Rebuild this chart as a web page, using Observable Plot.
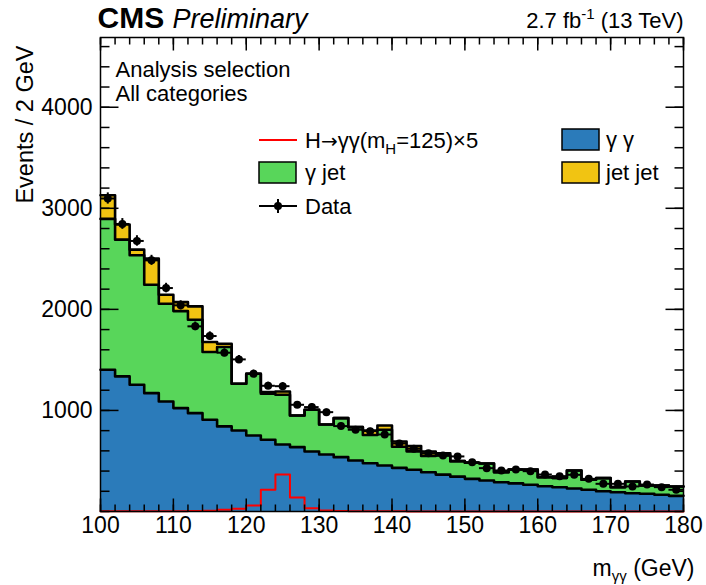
<!DOCTYPE html>
<html>
<head>
<meta charset="utf-8">
<script src="https://cdn.jsdelivr.net/npm/d3@7"></script>
<script src="https://cdn.jsdelivr.net/npm/@observablehq/plot@0.6"></script>
<style>
  html, body { margin: 0; padding: 0; background: #fff; overflow: hidden; }
  svg { display: block; }
</style>
</head>
<body>
<div id="chart"></div>
<script>
// ---- data ----
const binLow = [100,102,104,106,108,110,112,114,116,118,120,122,124,126,128,130,132,134,136,138,
                140,142,144,146,148,150,152,154,156,158,160,162,164,166,168,170,172,174,176,178];
const binWidth = 2;
const xMax = 180;

const gammaGamma = [1403,1337,1254,1171,1089,1023,973,908,842,802,752,710,663,637,594,564,538,505,478,455,
                    432,413,389,365,345,323,307,290,278,265,250,240,228,215,201,191,181,175,165,155];
const gammaJet   = [1492,1353,1281,1073,967,960,925,670,785,462,611,455,492,313,413,297,386,330,279,354,
                    208,182,161,190,153,159,168,99,138,151,90,93,178,99,129,50,116,82,92,93];
const jetJet     = [234,150,56,258,89,89,132,99,33,0,0,16,33,0,0,0,0,0,45,42,
                    53,52,44,22,0,0,0,0,0,0,0,0,0,0,0,0,0,0,0,0];
const dataCounts = [3097,2845,2677,2485,2211,2040,1832,1736,1571,1505,1363,1244,1240,1056,1033,983,845,809,795,762,
                    673,620,577,554,545,488,429,406,416,399,366,350,363,323,274,274,248,267,241,215];
const signalX5   = [2,2,2,2,2,3,5,7,17,27,59,215,366,139,33,10,5,3,2,2,
                    2,1,1,1,1,1,1,1,1,1,1,1,1,1,1,1,1,1,1,1];

const components = ["γ γ", "γ jet", "jet jet"];
const compColors = ["#2b7bba", "#58d65a", "#f1c412"];
const xTicks = [100,110,120,130,140,150,160,170,180];
const yTicks = [1000,2000,3000,4000];

// ---- layout ----
const W = 706, H = 585;
const mL = 100, mR = 23, mT = 37, mB = 74;
const innerW = W - mL - mR, innerH = H - mT - mB;
const X0 = 100, X1 = 180, Y0 = 0, Y1 = 4690;
const FONT = "'Liberation Sans', Arial, Helvetica, sans-serif";
const pxX = (X1 - X0) / innerW, pxY = (Y1 - Y0) / innerH;   // one pixel in data units

// ---- build tables ----
const compValues = [gammaGamma, gammaJet, jetJet];
const stackRows = [];
components.forEach((c, k) => {
  const vals = compValues[k];
  binLow.forEach((x, i) => stackRows.push({comp: c, x, v: vals[i]}));
  stackRows.push({comp: c, x: xMax, v: vals[vals.length - 1]});
});
const sigRows = binLow.map((x, i) => ({x, v: signalX5[i]}));
sigRows.push({x: xMax, v: signalX5[signalX5.length - 1]});
const dataRows = binLow.map((x, i) => ({
  x: x + binWidth / 2, x1: x, x2: x + binWidth, n: dataCounts[i],
  lo: dataCounts[i] - Math.sqrt(dataCounts[i]), hi: dataCounts[i] + Math.sqrt(dataCounts[i])
}));
const minorX = d3.range(100, 181, 2);
const minorY = d3.range(0, 4601, 200);

// tick rows for the four sides (lengths in pixels converted to data units)
const xTickRows = [
  ...minorX.map(v => ({v, a: Y0, b: Y0 + 7 * pxY})), ...xTicks.map(v => ({v, a: Y0, b: Y0 + 13 * pxY})),
  ...minorX.map(v => ({v, a: Y1, b: Y1 - 7 * pxY})), ...xTicks.map(v => ({v, a: Y1, b: Y1 - 13 * pxY}))
];
const yTickRows = [
  ...minorY.map(v => ({v, a: X0, b: X0 + 9 * pxX})), ...yTicks.map(v => ({v, a: X0, b: X0 + 18 * pxX})),
  ...minorY.map(v => ({v, a: X1, b: X1 - 9 * pxX})), ...yTicks.map(v => ({v, a: X1, b: X1 - 18 * pxX}))
];

const chart = Plot.plot({
  width: W, height: H,
  marginLeft: mL, marginRight: mR, marginTop: mT, marginBottom: mB,
  style: {fontFamily: FONT, background: "#fff"},
  x: {domain: [X0, X1], label: null},
  y: {domain: [Y0, Y1], label: null},
  color: {domain: components, range: compColors},
  marks: [
    Plot.areaY(stackRows, {x: "x", y: "v", z: "comp", fill: "comp", curve: "step-after"}),
    Plot.lineY(stackRows, Plot.stackY2({x: "x", y: "v", z: "comp", curve: "step-after",
      stroke: "black", strokeWidth: 2.6})),
    Plot.lineY(sigRows, {x: "x", y: "v", curve: "step-after", stroke: "#ff0000", strokeWidth: 2}),
    // data
    Plot.ruleY(dataRows, {x1: "x1", x2: "x2", y: "n", stroke: "black", strokeWidth: 2}),
    Plot.ruleX(dataRows, {x: "x", y1: "lo", y2: "hi", stroke: "black", strokeWidth: 2}),
    Plot.dot(dataRows, {x: "x", y: "n", r: 4, fill: "black"}),
    Plot.frame({stroke: "black", strokeWidth: 1.5}),
    // inward ticks on all four sides, drawn on top of the frame
    Plot.link(xTickRows, {x1: "v", x2: "v", y1: "a", y2: "b", stroke: "black", strokeWidth: 1.5}),
    Plot.link(yTickRows, {y1: "v", y2: "v", x1: "a", x2: "b", stroke: "black", strokeWidth: 1.5}),
    // axes labels
    Plot.axisX(xTicks, {tickSize: 0, tickPadding: 5, fontSize: 23, fill: "black", tickFormat: d => String(d)}),
    Plot.axisY(yTicks, {tickSize: 0, tickPadding: 8, fontSize: 23, fill: "black", tickFormat: d => String(d)}),
    Plot.text(["Events / 2 GeV"], {frameAnchor: "top-left", rotate: -90, textAnchor: "end",
      lineAnchor: "bottom", dx: -68, dy: 8, fontSize: 23.5, fill: "black"}),
    Plot.text(["mγγ (GeV)"], {frameAnchor: "bottom-right", textAnchor: "end",
      lineAnchor: "bottom", dx: 11, dy: 64, fontSize: 23, fill: "black"}),
    // header
    Plot.text(["CMS"], {frameAnchor: "top-left", textAnchor: "start", lineAnchor: "bottom",
      dx: -3, dy: -10, fontSize: 30, fontWeight: "bold", fill: "black"}),
    Plot.text(["Preliminary"], {frameAnchor: "top-left", textAnchor: "start", lineAnchor: "bottom",
      dx: 72, dy: -10, fontSize: 27, fontStyle: "italic", fill: "black"}),
    Plot.text(["2.7 fb-1 (13 TeV)"], {frameAnchor: "top-right", textAnchor: "end", lineAnchor: "bottom",
      dx: 0, dy: -10, fontSize: 22, fill: "black"}),
    Plot.text(["Analysis selection"], {frameAnchor: "top-left", textAnchor: "start", lineAnchor: "bottom",
      dx: 15, dy: 39, fontSize: 22, fill: "black"}),
    Plot.text(["All categories"], {frameAnchor: "top-left", textAnchor: "start", lineAnchor: "bottom",
      dx: 15, dy: 63, fontSize: 22, fill: "black"})
  ]
});

const svg = d3.select(chart);

// superscripts / subscripts
svg.selectAll("text").each(function () {
  const t = d3.select(this);
  const s = this.textContent;
  if (s === "2.7 fb-1 (13 TeV)") {
    t.text(null);
    t.append("tspan").text("2.7 fb");
    t.append("tspan").attr("dy", -9).attr("font-size", 15).text("-1");
    t.append("tspan").attr("dy", 9).text(" (13 TeV)");
  } else if (s === "mγγ (GeV)") {
    t.text(null);
    t.append("tspan").text("m");
    t.append("tspan").attr("dy", 5).attr("font-size", 15).text("γγ");
    t.append("tspan").attr("dy", -5).text(" (GeV)");
  }
});

// legend
const lg = svg.append("g").attr("font-family", FONT).attr("font-size", 22)
  .attr("fill", "black").attr("text-anchor", "start");
const entries = [
  {type: "line", x: 259, y: 140, label: "signal"},
  {type: "box", x: 259, y: 172, color: compColors[1], label: "γ jet"},
  {type: "data", x: 259, y: 206, label: "Data"},
  {type: "box", x: 562, y: 139, color: compColors[0], label: "γ γ"},
  {type: "box", x: 562, y: 172, color: compColors[2], label: "jet jet"}
];
entries.forEach(e => {
  if (e.type === "line") {
    lg.append("line").attr("x1", e.x).attr("x2", e.x + 38).attr("y1", e.y).attr("y2", e.y)
      .attr("stroke", "#ff0000").attr("stroke-width", 2);
  } else if (e.type === "box") {
    lg.append("rect").attr("x", e.x).attr("y", e.y - 10).attr("width", 37).attr("height", 21)
      .attr("fill", e.color).attr("stroke", "black").attr("stroke-width", 1.5);
  } else {
    lg.append("line").attr("x1", e.x).attr("x2", e.x + 38).attr("y1", e.y).attr("y2", e.y)
      .attr("stroke", "black").attr("stroke-width", 2);
    lg.append("line").attr("x1", e.x + 19).attr("x2", e.x + 19).attr("y1", e.y - 7).attr("y2", e.y + 7)
      .attr("stroke", "black").attr("stroke-width", 2);
    lg.append("circle").attr("cx", e.x + 19).attr("cy", e.y).attr("r", 4).attr("fill", "black");
  }
  const tx = lg.append("text").attr("x", e.x + (e.x > 400 ? 44 : 46)).attr("y", e.y + 8);
  if (e.label === "signal") {
    tx.append("tspan").text("H");
    tx.append("tspan").attr("font-family", "'DejaVu Sans'").attr("font-size", 20).text("→");
    tx.append("tspan").text("γγ(m");
    tx.append("tspan").attr("dy", 6).attr("font-size", 15).text("H");
    tx.append("tspan").attr("dy", -6).text("=125)×5");
  } else {
    tx.text(e.label);
  }
});

document.getElementById("chart").appendChild(chart);
</script>
</body>
</html>
